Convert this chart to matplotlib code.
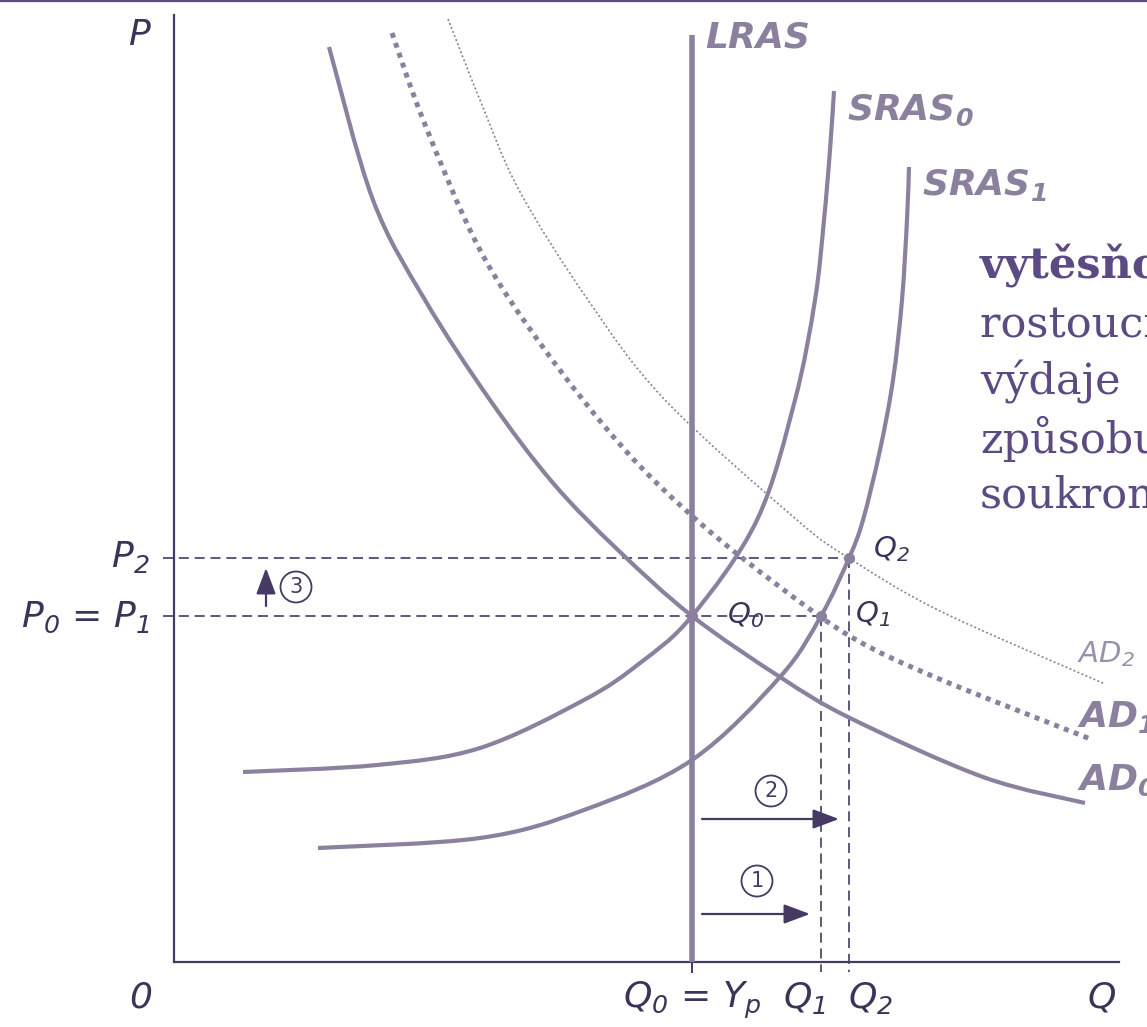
import matplotlib
matplotlib.use('Agg')
import matplotlib.pyplot as plt
from matplotlib.patches import Circle, PathPatch
from matplotlib.path import Path

plt.rcParams['mathtext.default'] = 'regular'
plt.rcParams['font.family'] = ['DejaVu Sans']

# ---------------- data (Q = quantity, P = price level, schematic units) ----------------
ad0_q = [155, 199, 251, 316, 379, 444, 518, 606, 676, 809, 911]
ad0_p = [915, 762, 662, 562, 479, 412, 346, 285, 244, 185, 159]

ad1_q = [218, 250, 306, 371, 451, 526, 606, 679, 763, 919]
ad1_p = [929, 840, 712, 612, 512, 439, 375, 324, 284, 222]

ad2_q = [274, 306, 345, 414, 491, 623, 675, 766, 931]
ad2_p = [943, 862, 772, 662, 562, 442, 404, 351, 278]

sras0_q = [69, 203, 306, 410, 466, 518, 583, 621, 641, 650, 656, 660]
sras0_p = [190, 197, 214, 262, 299, 346, 442, 562, 662, 742, 812, 871]

sras1_q = [144, 306, 410, 518, 606, 647, 675, 689, 706, 719, 728, 733, 735]
sras1_p = [114, 124, 152, 202, 285, 346, 404, 442, 512, 582, 662, 742, 795]

Q0, Q1, Q2 = 518, 647, 675
P0, P2 = 346, 404
lras_top = 927
axis_q_max, axis_p_max = 945, 947

eq_q = [Q0, Q1, Q2]
eq_p = [P0, P0, P2]

text_lines = ["vytěsňování", "rostoucí vládní", "výdaje", "způsobují", "soukromých"]

# ---------------- style ----------------
curve_c = '#8b819e'
dark_c = '#463a63'
label_c = '#3d3358'
text_c = '#5c4b82'

fig = plt.figure(figsize=(11.47, 10.27), dpi=100)
ax = fig.add_axes([0, 0, 1, 1])
ax.set_xlim(-174, 973)
ax.set_ylim(-65, 962)
ax.axis('off')


def smooth_curve(qs, ps, **kw):
    """Draw a smooth Bezier path through the read points (Catmull-Rom tangents)."""
    pts = list(zip(qs, ps))
    n = len(pts)
    verts = [pts[0]]
    codes = [Path.MOVETO]
    for i in range(n - 1):
        p_prev = pts[i - 1] if i > 0 else pts[i]
        p0 = pts[i]
        p1 = pts[i + 1]
        p_next = pts[i + 2] if i + 2 < n else pts[i + 1]
        c1 = (p0[0] + (p1[0] - p_prev[0]) / 6.0, p0[1] + (p1[1] - p_prev[1]) / 6.0)
        c2 = (p1[0] - (p_next[0] - p0[0]) / 6.0, p1[1] - (p_next[1] - p0[1]) / 6.0)
        verts += [c1, c2, p1]
        codes += [Path.CURVE4] * 3
    patch = PathPatch(Path(verts, codes), fill=False, **kw)
    ax.add_patch(patch)
    return patch


# top border
ax.plot([-174, 973], [961.2, 961.2], color='#5c4b82', lw=1.6, solid_capstyle='butt')

# axes
ax.plot([0, 0], [0, axis_p_max], color=dark_c, lw=1.6)
ax.plot([0, axis_q_max], [0, 0], color=dark_c, lw=1.6)

# dashed guides
dash = dict(color=dark_c, lw=1.2, ls=(0, (6, 3.5)))
ax.plot([-11, Q2], [P2, P2], **dash)
ax.plot([-11, Q1], [P0, P0], **dash)
ax.plot([Q1, Q1], [P0, -10], **dash)
ax.plot([Q2, Q2], [P2, -10], **dash)
ax.plot([Q0, Q0], [0, -10], color=dark_c, lw=1.4)

# curves
ax.plot([Q0, Q0], [0, lras_top], color=curve_c, lw=4, solid_capstyle='butt', zorder=3)
smooth_curve(ad0_q, ad0_p, ec=curve_c, lw=3, capstyle='butt', zorder=3)
smooth_curve(ad1_q, ad1_p, ec=curve_c, lw=3.6, ls=(0, (1, 1.1)), capstyle='butt', zorder=3)
smooth_curve(ad2_q, ad2_p, ec=curve_c, lw=1.2, ls=(0, (1.2, 1.4)), zorder=3)
smooth_curve(sras0_q, sras0_p, ec=curve_c, lw=3, capstyle='butt', zorder=3)
smooth_curve(sras1_q, sras1_p, ec=curve_c, lw=3, capstyle='butt', zorder=3)
ax.plot(eq_q, eq_p, 'o', color=curve_c, ms=7, zorder=4)

# axis labels
lab = dict(color=label_c, fontsize=26, style='italic')
ax.text(-35, 917, 'P', ha='center', va='baseline', **lab)
ax.text(-33, -46, '0', ha='center', va='baseline', **lab)
ax.text(928, -46, 'Q', ha='center', va='baseline', **lab)
ax.text(-24, 395, '$P_2$', ha='right', va='baseline', **lab)
ax.text(-24, 335, '$P_0$ = $P_1$', ha='right', va='baseline', **lab)
ax.text(Q0, -46, '$Q_0$ = $Y_p$', ha='center', va='baseline', **lab)
ax.text(Q1 + 5, -46, '$Q_1$', ha='right', va='baseline', **lab)
ax.text(Q2 - 1, -46, '$Q_2$', ha='left', va='baseline', **lab)

# equilibrium point labels
ql = dict(color=label_c, fontsize=21, style='italic')
ax.text(553, 339, '$Q_0$', ha='left', va='baseline', **ql)
ax.text(681, 340, '$Q_1$', ha='left', va='baseline', **ql)
ax.text(699, 405, '$Q_2$', ha='left', va='baseline', **ql)

# curve labels
cl = dict(color=curve_c, fontsize=26, style='italic', weight='bold')
ax.text(531, 914, 'LRAS', ha='left', va='baseline', **cl)
ax.text(673, 842, '$SRAS_0$', ha='left', va='baseline', **cl)
ax.text(748, 767, '$SRAS_1$', ha='left', va='baseline', **cl)
ax.text(903, 235, '$AD_1$', ha='left', va='baseline', **cl)
ax.text(903, 172, '$AD_0$', ha='left', va='baseline', **cl)
ax.text(903, 300, '$AD_2$', ha='left', va='baseline', color='#9a90ab',
        fontsize=21, style='italic')

# arrows with circled numbers
arrows = [((528, 48), (636, 48)), ((528, 143), (665, 143)), ((92, 356), (92, 394))]
circles = [((583, 81), '1'), ((597, 171), '2'), ((122, 375), '3')]
for (s, e) in arrows:
    ax.annotate('', xy=e, xytext=s,
                arrowprops=dict(arrowstyle='-|>,head_length=1.6,head_width=0.6',
                                lw=1.6, color=dark_c, shrinkA=0, shrinkB=0))
for (c, t) in circles:
    ax.add_patch(Circle(c, 15.5, fill=False, ec=dark_c, lw=1.3))
    ax.text(c[0], c[1], t, ha='center', va='center', fontsize=15, color=dark_c)

# right-hand text (cut by the figure edge, as in the reference)
base_p = [683, 625, 568, 510, 454]
for i, (line, bp) in enumerate(zip(text_lines, base_p)):
    ax.text(806, bp, line, ha='left', va='baseline', color=text_c, fontsize=31,
            family='DejaVu Serif', weight='bold' if i == 0 else 'normal')

fig.savefig('out.png', dpi=100)
